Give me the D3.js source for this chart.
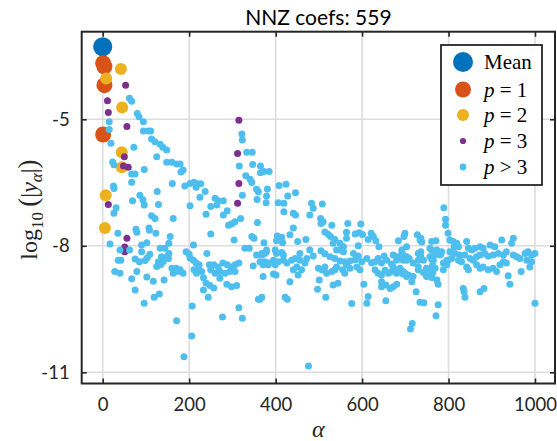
<!DOCTYPE html>
<html>
<head>
<meta charset="utf-8">
<script src="https://cdn.jsdelivr.net/npm/d3@7"></script>
<style>
  html, body { margin: 0; padding: 0; background: #fff; }
  svg { display: block; }
</style>
</head>
<body>
<svg id="chart" width="557" height="441"></svg>
<script>
// Coefficient magnitudes of the expansion, grouped by interaction order p.
// Each entry is [alpha index, log10(|y_alpha|)].
const titleText = "NNZ coefs: 559";
const xTicks = [0, 200, 400, 600, 800, 1000];
const yTicks = [-11, -8, -5];
const xLimits = [-48.6, 1046.3];
const yLimits = [-11.265, -2.923];

const meanPts = [[0, -3.28]];
const p1Pts = [[1, -3.67], [4, -3.75], [4, -4.19], [1, -5.36]];
const p2Pts = [[42, -3.81], [8, -4.03], [45, -4.72], [44, -5.78], [44, -6.14], [7, -6.80], [5, -7.58]];
const p3Pts = [[53, -4.19], [11, -4.56], [13, -4.84], [56, -5.17], [50, -5.89], [48, -6.11], [59, -6.14],
  [13, -7.02], [56, -7.82], [51, -8.03], [51, -8.14],
  [315, -5.02], [312, -5.81], [315, -6.52], [312, -6.99]];
const pHighPts = [
  [62,-4.50],[67,-4.57],[80,-4.86],[84,-4.94],[94,-5.06],[15,-5.06],[15,-5.24],[94,-5.28],[105,-5.28],[111,-5.28],
  [113,-5.47],[121,-5.53],[133,-5.59],[139,-5.66],[148,-5.73],[19,-5.57],[72,-5.66],[125,-5.89],[23,-6.01],[26,-6.08],
  [148,-6.02],[160,-6.02],[171,-6.06],[179,-6.06],[186,-6.20],[181,-6.25],[67,-6.30],[75,-6.30],[96,-6.19],[67,-6.49],
  [25,-6.58],[26,-6.64],[161,-6.52],[202,-6.52],[211,-6.49],[219,-6.53],[227,-6.53],[216,-6.61],[190,-6.58],[237,-6.71],
  [126,-6.71],[86,-6.80],[93,-6.91],[96,-7.03],[69,-6.93],[31,-7.10],[26,-7.23],[225,-6.85],[129,-7.02],[202,-7.05],
  [260,-6.87],[267,-6.93],[279,-6.93],[264,-7.03],[250,-7.07],[239,-7.25],[288,-7.17],[279,-7.27],[113,-7.29],[121,-7.35],
  [163,-7.35],[107,-7.58],[77,-7.61],[306,-7.43],[298,-7.48],[291,-7.51],[319,-7.35],
  [322,-5.35],[323,-5.49],[333,-5.78],[346,-5.78],[316,-6.11],[347,-6.07],[365,-6.11],[331,-6.34],[341,-6.42],[345,-6.50],
  [365,-6.27],[373,-6.24],[356,-6.66],[360,-6.72],[323,-6.80],[381,-6.65],[379,-6.82],[378,-6.98],[357,-6.90],[358,-7.45],
  [385,-6.24],[408,-6.57],[424,-6.54],[428,-6.82],[446,-6.74],
  [406,-6.98],[419,-6.99],[419,-7.19],[441,-7.23],[446,-7.27],[483,-6.99],[487,-7.11],[508,-7.01],[479,-7.27],[504,-7.35],
  [505,-7.47],[510,-7.43],[530,-7.51],[441,-7.58],[433,-7.74],[404,-7.77],[414,-7.80],[402,-7.88],[416,-7.93],[373,-7.93],
  [451,-7.90],[470,-7.85],[514,-7.67],[522,-7.73],[527,-7.78],[537,-7.85],[533,-7.94],[567,-7.47],[597,-7.48],[564,-7.68],
  [564,-7.82],[584,-7.72],[593,-7.69],[601,-7.73],[621,-7.70],[626,-7.78],[614,-7.85],[632,-7.88],[591,-8.00],[549,-7.94],
  [557,-8.02],[549,-8.10],[557,-8.14],[639,-8.02],[699,-7.70],[684,-7.88],
  [379,-8.10],[375,-8.18],[368,-8.22],[364,-8.38],[375,-8.38],[383,-8.41],[399,-8.10],[402,-8.18],[414,-8.16],[418,-8.22],
  [395,-8.34],[406,-8.38],[418,-8.34],[426,-8.41],[437,-8.34],[445,-8.30],[456,-8.18],[456,-8.34],[472,-8.30],[479,-8.10],
  [487,-8.24],[505,-8.12],[514,-8.19],[526,-8.26],[537,-8.30],[549,-8.36],[560,-8.38],[572,-8.36],[584,-8.33],[591,-8.24],
  [599,-8.38],[611,-8.30],[622,-8.40],[630,-8.38],[637,-8.30],[645,-8.41],[657,-8.34],[668,-8.43],[680,-8.34],[692,-8.30],
  [703,-8.26],[672,-8.22],[651,-8.24],[541,-8.10],[580,-8.18],[564,-8.45],[541,-8.50],[555,-8.57],[572,-8.53],[588,-8.50],
  [595,-8.57],[371,-8.45],[383,-8.45],
  [371,-8.73],[399,-8.45],[401,-8.69],[395,-8.67],[441,-8.57],[449,-8.50],[460,-8.57],[452,-8.69],[433,-8.85],[468,-8.41],
  [499,-8.53],[507,-8.57],[514,-8.50],[518,-8.65],[530,-8.61],[537,-8.57],[501,-8.81],[497,-9.03],[533,-8.93],[544,-8.89],
  [516,-9.22],[560,-8.65],[576,-9.37],[604,-8.91],[614,-9.20],[611,-9.36],[630,-8.57],[637,-8.65],[645,-8.69],[653,-8.58],
  [661,-8.65],[668,-8.61],[680,-8.65],[688,-8.53],[695,-8.61],[703,-8.69],[645,-8.85],[655,-8.93],[645,-8.97],[665,-9.01],
  [672,-8.97],[680,-8.91],[655,-9.30],[368,-9.22],[364,-9.27],[422,-9.22],[427,-9.27],
  [476,-10.85],[716,-9.84],[712,-9.97],[734,-9.34],[743,-9.35],[776,-9.40],[771,-9.66],
  [728,-7.74],[734,-7.86],[738,-7.91],[761,-7.90],[771,-7.88],[789,-7.10],[793,-7.37],[793,-7.51],[799,-7.70],
  [680,-8.26],[692,-8.18],[699,-8.26],[695,-8.34],[709,-8.30],[718,-8.41],[730,-8.18],[736,-8.26],[742,-8.34],[757,-8.26],
  [767,-8.22],[773,-8.10],[782,-8.20],[788,-8.41],[799,-8.34],[672,-8.50],[684,-8.57],[695,-8.67],[703,-8.73],[715,-8.85],
  [730,-8.57],[742,-8.63],[751,-8.71],[761,-8.75],[773,-8.81],[776,-8.91],[763,-8.46],[769,-8.53],[788,-8.57],[796,-8.45],
  [697,-7.78],[736,-7.82],
  [803,-7.86],[811,-7.90],[819,-7.94],[813,-8.02],[823,-8.02],[842,-7.90],[846,-8.06],[854,-8.10],[861,-8.06],[873,-8.02],
  [880,-8.06],[896,-7.98],[907,-8.02],[923,-7.86],[950,-7.82],[946,-7.94],[703,-8.02],[692,-8.10],[761,-8.10],[757,-8.06],
  [736,-8.14],[784,-8.14],[780,-8.22],[803,-8.14],[815,-8.18],[826,-8.22],[823,-8.34],[807,-8.30],[796,-8.34],
  [838,-8.22],[850,-8.30],[857,-8.34],[865,-8.26],[873,-8.22],[884,-8.18],[892,-8.25],[903,-8.22],[915,-8.18],[927,-8.22],
  [934,-8.14],[950,-8.22],[958,-8.26],[965,-8.30],[977,-8.18],[984,-8.14],[992,-8.22],[1000,-8.18],[981,-8.34],[992,-8.38],
  [988,-8.50],[830,-8.38],[842,-8.50],[846,-8.57],[865,-8.45],[873,-8.53],[880,-8.50],[892,-8.57],[903,-8.53],[911,-8.61],
  [927,-8.38],[934,-8.41],[919,-8.45],[968,-8.61],[938,-8.71],[942,-8.91],[1000,-9.36],[882,-9.01],[873,-9.09],
  [834,-9.01],[836,-9.09],[838,-9.22],[725,-9.09],[763,-8.65],[757,-8.57],[749,-8.53],[749,-8.73],[761,-8.32],[765,-8.34],
  [730,-8.50],[730,-8.34],[718,-8.73],[707,-8.69],[699,-8.65],[695,-8.22],[703,-8.34],
  [35,-7.70],[79,-7.68],[108,-7.63],[123,-7.70],[156,-7.78],[153,-7.94],[17,-7.96],[40,-8.10],[62,-8.10],[90,-7.98],
  [102,-7.93],[90,-8.14],[109,-8.20],[103,-8.29],[98,-8.35],[133,-8.06],[144,-8.06],[153,-8.18],[136,-8.26],[148,-8.26],
  [129,-8.38],[140,-8.38],[152,-8.30],[125,-8.49],[134,-8.45],[75,-8.31],[85,-8.38],[36,-8.34],[42,-8.34],[28,-8.61],
  [40,-8.65],[79,-8.61],[160,-8.53],[170,-8.53],[179,-8.57],[186,-8.65],[163,-8.65],[173,-8.61],[67,-8.78],[102,-8.74],
  [117,-8.84],[142,-8.81],[75,-9.05],[119,-9.22],[131,-9.14],[96,-9.36],[171,-9.78],[207,-9.43],[206,-10.14],[188,-10.63],
  [193,-8.14],[200,-8.20],[202,-8.29],[210,-7.98],[210,-8.34],[216,-8.40],[223,-8.45],[221,-8.53],[211,-8.57],[217,-8.65],
  [229,-8.61],[241,-8.18],[250,-7.72],[233,-8.76],[239,-8.88],[248,-8.94],[257,-9.00],[233,-9.05],[244,-9.22],
  [247,-8.45],[257,-8.45],[267,-8.50],[278,-8.41],[288,-8.45],[298,-8.50],[306,-8.45],[315,-8.41],[250,-8.57],[260,-8.65],
  [271,-8.61],[283,-8.65],[294,-8.61],[306,-8.61],[271,-8.77],[287,-8.91],[298,-8.97],[310,-8.94],[277,-9.69],[315,-9.47],
  [323,-9.72],[304,-7.86],[329,-8.06],[339,-8.06],[345,-7.78],[350,-7.82],[356,-8.22],[368,-8.18],[379,-8.14],[348,-8.48],
  [360,-9.27]
];

const series = [
  { name: "Mean", pts: meanPts, color: "#0072BD", r: 9.6, lr: 10 },
  { name: "p1", pts: p1Pts, color: "#D95319", r: 8, lr: 8 },
  { name: "p2", pts: p2Pts, color: "#EDB120", r: 6, lr: 6 },
  { name: "p3", pts: p3Pts, color: "#7E2F8E", r: 3.5, lr: 3.1 },
  { name: "p>3", pts: pHighPts, color: "#4DBEEE", r: 3.5, lr: 3.4 }
];

const svg = d3.select("#chart");
const W = 557, H = 441;
const plot = { left: 81.7, right: 555, top: 31.7, bottom: 383.5 };

const x = d3.scaleLinear().domain(xLimits).range([plot.left, plot.right]);
const y = d3.scaleLinear().domain(yLimits).range([plot.bottom, plot.top]);

const tickFont = "Lato, 'Open Sans', sans-serif";
const axisColor = "#262626";
const plainNum = d => String(d);

svg.append("rect").attr("width", W).attr("height", H).attr("fill", "#fff");

// grid
const grid = svg.append("g");
grid.selectAll("line.gx").data(xTicks).join("line")
  .attr("x1", d => x(d)).attr("x2", d => x(d))
  .attr("y1", plot.top).attr("y2", plot.bottom)
  .attr("stroke", "#dcdcdc").attr("stroke-width", 1.6);
grid.selectAll("line.gy").data(yTicks).join("line")
  .attr("y1", d => y(d)).attr("y2", d => y(d))
  .attr("x1", plot.left).attr("x2", plot.right)
  .attr("stroke", "#dcdcdc").attr("stroke-width", 1.6);

// points, drawn in legend order
const marks = svg.append("g");
series.forEach(s => {
  marks.append("g").selectAll("circle").data(s.pts).join("circle")
    .attr("cx", d => x(d[0])).attr("cy", d => y(d[1]))
    .attr("r", s.r).attr("fill", s.color);
});

// axes with inward ticks on all four sides
const tickLen = 5;
const axB = d3.axisBottom(x).tickValues(xTicks).tickFormat(plainNum).tickSizeInner(-tickLen).tickSizeOuter(0).tickPadding(14);
const axT = d3.axisTop(x).tickValues(xTicks).tickSizeInner(-tickLen).tickSizeOuter(0).tickFormat("");
const axL = d3.axisLeft(y).tickValues(yTicks).tickFormat(plainNum).tickSizeInner(-tickLen).tickSizeOuter(0).tickPadding(12);
const axR = d3.axisRight(y).tickValues(yTicks).tickSizeInner(-tickLen).tickSizeOuter(0).tickFormat("");

function styleAxis(g) {
  g.select(".domain").remove();
  g.selectAll(".tick line").attr("stroke", axisColor).attr("stroke-width", 1.6);
  g.selectAll(".tick text").attr("fill", axisColor).style("font-family", tickFont).style("font-size", "18.5px");
}
svg.append("g").attr("transform", `translate(0,${plot.bottom})`).call(axB).call(styleAxis);
svg.append("g").attr("transform", `translate(0,${plot.top})`).call(axT).call(styleAxis);
svg.append("g").attr("transform", `translate(${plot.left},0)`).call(axL).call(styleAxis);
svg.append("g").attr("transform", `translate(${plot.right},0)`).call(axR).call(styleAxis);

svg.append("rect")
  .attr("x", plot.left).attr("y", plot.top)
  .attr("width", plot.right - plot.left).attr("height", plot.bottom - plot.top)
  .attr("fill", "none").attr("stroke", axisColor).attr("stroke-width", 2);

// title
svg.append("text").attr("x", (plot.left + plot.right) / 2).attr("y", 25)
  .attr("text-anchor", "middle").attr("fill", "#000")
  .style("font-family", tickFont).style("font-size", "21px")
  .text(titleText);

// axis labels
const serif = "'Liberation Serif', 'DejaVu Serif', serif";
svg.append("text").attr("x", (plot.left + plot.right) / 2).attr("y", 437)
  .attr("text-anchor", "middle").attr("fill", axisColor)
  .style("font-family", serif).style("font-size", "24px").style("font-style", "italic")
  .text("α");

const yl = svg.append("text")
  .attr("transform", `translate(37,${(plot.top + plot.bottom) / 2 + 2}) rotate(-90)`)
  .attr("text-anchor", "middle").attr("fill", axisColor)
  .style("font-family", serif).style("font-size", "24px");
yl.append("tspan").text("log");
yl.append("tspan").attr("dy", 6).style("font-size", "17px").text("10");
yl.append("tspan").attr("dy", -6).style("font-size", "27px").text("\u2009(");
yl.append("tspan").text("|");
yl.append("tspan").style("font-style", "italic").text("y");
yl.append("tspan").attr("dy", 5).style("font-size", "17px").style("font-style", "italic").text("α");
yl.append("tspan").attr("dy", -5).text("|");
yl.append("tspan").style("font-size", "27px").text(")");

// legend
const lg = svg.append("g");
const legBox = { x: 441, y: 45, w: 101, h: 140 };
lg.append("rect").attr("x", legBox.x).attr("y", legBox.y).attr("width", legBox.w).attr("height", legBox.h)
  .attr("fill", "#fff").attr("stroke", axisColor).attr("stroke-width", 1.8);
const rowY = [62, 89.5, 115, 141, 167];
const labels = [
  [{ t: "Mean" }],
  [{ t: "p", i: true }, { t: " = 1" }],
  [{ t: "p", i: true }, { t: " = 2" }],
  [{ t: "p", i: true }, { t: " = 3" }],
  [{ t: "p", i: true }, { t: " > 3" }]
];
series.forEach((s, k) => {
  lg.append("circle").attr("cx", 463).attr("cy", rowY[k]).attr("r", s.lr).attr("fill", s.color);
  const t = lg.append("text").attr("x", 484).attr("y", rowY[k] + 7)
    .attr("fill", "#000").style("font-family", serif).style("font-size", "21px");
  labels[k].forEach(part => {
    t.append("tspan").style("font-style", part.i ? "italic" : "normal").text(part.t);
  });
});
</script>
</body>
</html>
